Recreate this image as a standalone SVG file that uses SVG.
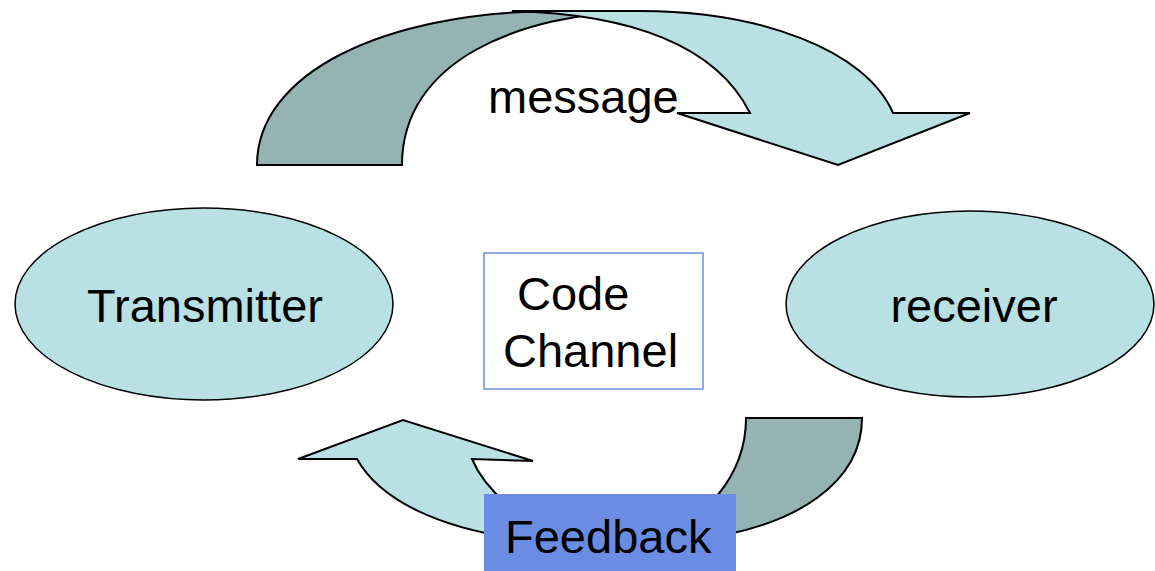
<svg xmlns="http://www.w3.org/2000/svg" width="1155" height="571" viewBox="0 0 1155 571">
<style>
.light{fill:#b9e0e3;stroke:#000;stroke-width:2}
.dark{fill:#95b3b3;stroke:#000;stroke-width:2}
.lbl{font-family:"Liberation Sans",Arial,sans-serif;font-size:47px;fill:#000}
</style>
<rect width="1155" height="571" fill="#fff"/>
<g id="connectors">
<g id="message-arrow">
<path class="dark" d="M257,165 C257,75 380,11 560,11 L640,11 C520,14 402,60 402,165 Z"/>
<path class="light" d="M512,11 L640,11 C760,11 866,50 893,113 L970,113 L838,165 L677,113 L750,113 C716,45 630,14 512,11 Z"/>
</g>
<g id="feedback-arrow">
<path class="dark" d="M746,418 L862,418 C862,480 800,528 690,540 L660,540 C700,520 746,480 746,418 Z"/>
<path class="light" d="M357,459 L298,459 L403,420 L533,461 L472,459 C485,490 520,520 560,535 L530,540 C440,530 380,500 357,459 Z"/>
</g>
</g>
<g id="transmitter">
<ellipse class="light" cx="204" cy="304" rx="189" ry="96" style="stroke-width:1.5"/>
<text class="lbl" x="205" y="322" text-anchor="middle">Transmitter</text>
</g>
<g id="receiver">
<ellipse class="light" cx="970" cy="304" rx="184" ry="93" style="stroke-width:1.5"/>
<text class="lbl" x="974" y="322" text-anchor="middle">receiver</text>
</g>
<g id="channel">
<rect x="484" y="253" width="219" height="136" fill="#fff" stroke="#6f8fdc" stroke-width="1.5"/>
<text class="lbl" x="517" y="310">Code</text>
<text class="lbl" x="503" y="367">Channel</text>
</g>
<g id="message">
<text class="lbl" x="488" y="113">message</text>
</g>
<g id="feedback">
<rect x="484" y="494" width="252" height="77" fill="#6a8ce2"/>
<text class="lbl" x="505" y="553">Feedback</text>
</g>
</svg>
